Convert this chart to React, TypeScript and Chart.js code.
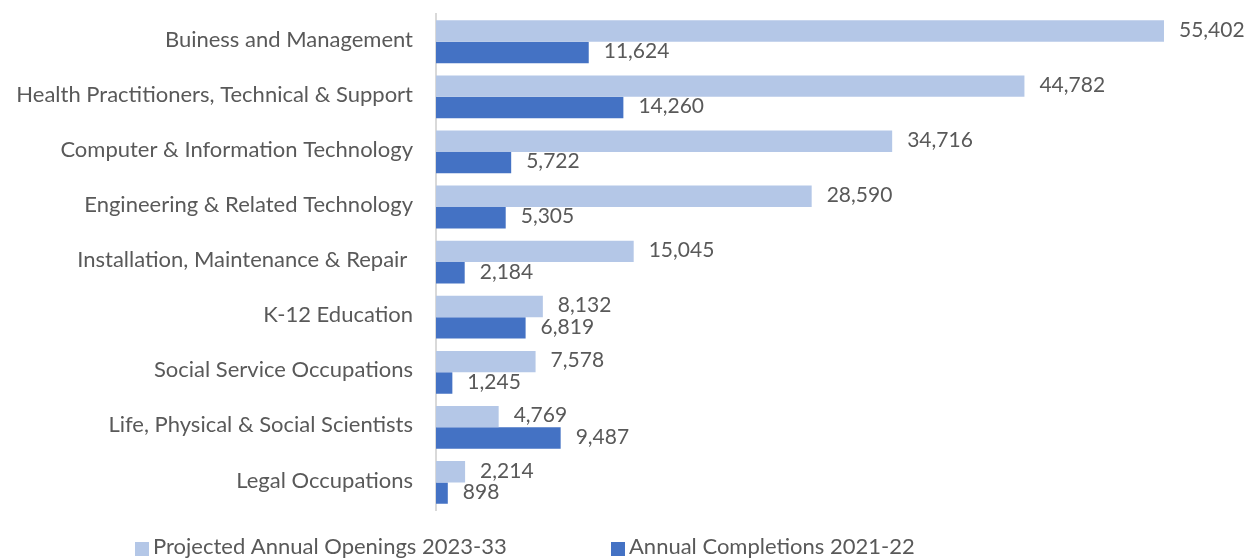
import React, { useEffect, useRef } from "react";
import { Chart, registerables } from "chart.js";

Chart.register(...registerables);

const categories = [
  "Buiness and Management",
  "Health Practitioners, Technical & Support",
  "Computer & Information Technology",
  "Engineering & Related Technology",
  "Installation, Maintenance & Repair ",
  "K-12 Education",
  "Social Service Occupations",
  "Life, Physical & Social Scientists",
  "Legal Occupations",
];

const projectedOpenings = [55402, 44782, 34716, 28590, 15045, 8132, 7578, 4769, 2214];
const annualCompletions = [11624, 14260, 5722, 5305, 2184, 6819, 1245, 9487, 898];

const seriesNames = ["Projected Annual Openings 2023-33", "Annual Completions 2021-22"];
const seriesColors = ["#B4C7E7", "#4472C4"];

const FONT = "Lato";
const TEXT_COLOR = "#595959";

const dataLabelPlugin = {
  id: "dataLabels",
  afterDatasetsDraw(chart: any) {
    const ctx = chart.ctx;
    ctx.save();
    ctx.font = `21px ${FONT}`;
    ctx.fillStyle = TEXT_COLOR;
    ctx.textAlign = "left";
    ctx.textBaseline = "middle";
    chart.data.datasets.forEach((ds: any, di: number) => {
      const meta = chart.getDatasetMeta(di);
      meta.data.forEach((bar: any, i: number) => {
        const v = ds.data[i] as number;
        ctx.fillText(v.toLocaleString("en-US"), bar.x + 15, bar.y - 1);
      });
    });
    ctx.restore();
  },
};

const legendPlugin = {
  id: "customLegend",
  afterDraw(chart: any) {
    const ctx = chart.ctx;
    const starts = [135, 611];
    ctx.save();
    ctx.font = `22px ${FONT}`;
    ctx.textAlign = "left";
    ctx.textBaseline = "alphabetic";
    seriesNames.forEach((name, i) => {
      const x = starts[i];
      ctx.fillStyle = seriesColors[i];
      ctx.fillRect(x, 542, 14, 14);
      ctx.fillStyle = TEXT_COLOR;
      ctx.fillText(name, x + 18, 554);
    });
    ctx.restore();
  },
};

export default function App() {
  const canvasRef = useRef<HTMLCanvasElement | null>(null);

  useEffect(() => {
    if (!canvasRef.current) return;
    const chart = new Chart(canvasRef.current, {
      type: "bar",
      data: {
        labels: categories,
        datasets: [
          {
            label: seriesNames[0],
            data: projectedOpenings,
            backgroundColor: seriesColors[0],
            categoryPercentage: 0.777,
            barPercentage: 1,
          },
          {
            label: seriesNames[1],
            data: annualCompletions,
            backgroundColor: seriesColors[1],
            categoryPercentage: 0.777,
            barPercentage: 1,
          },
        ],
      },
      options: {
        indexAxis: "y",
        animation: false,
        responsive: true,
        maintainAspectRatio: false,
        layout: { padding: { top: 12, bottom: 48, left: 0, right: 32.6 } },
        plugins: {
          legend: { display: false },
          tooltip: { enabled: false },
        },
        scales: {
          x: {
            display: false,
            min: 0,
            max: 60000,
          },
          y: {
            grid: { display: false, drawTicks: true, tickLength: 22 },
            border: { display: true, color: "#D9D9D9", width: 2 },
            ticks: {
              padding: 1,
              labelOffset: -2,
              color: TEXT_COLOR,
              font: { family: FONT, size: 22 },
              autoSkip: false,
            },
            afterFit(scale: any) {
              scale.width = 436;
            },
          },
        },
      },
      plugins: [dataLabelPlugin, legendPlugin],
    });
    return () => chart.destroy();
  }, []);

  return (
    <div style={{ position: "fixed", left: 0, top: 0, width: "100vw", height: "100vh", background: "#fff" }}>
      <canvas ref={canvasRef} />
    </div>
  );
}
